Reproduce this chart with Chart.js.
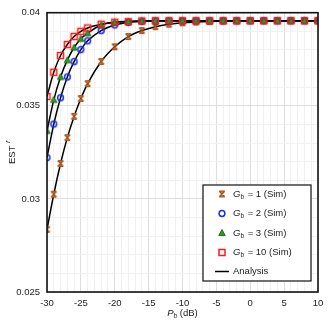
<!DOCTYPE html>
<html>
<head>
<meta charset="utf-8">
<script src="https://cdn.jsdelivr.net/npm/chart.js@4/dist/chart.umd.min.js"></script>
<style>
  html, body { margin: 0; padding: 0; background: #fff; }
  #wrap { width: 332px; height: 328px; }
</style>
</head>
<body>
<div id="wrap"><canvas id="chart" width="332" height="328"></canvas></div>
<script>
// P_b (dB) sample points
const pb = [-30, -29, -28, -27, -26, -25, -24, -22, -20, -18, -16, -14, -12, -10, -8, -6, -4, -2, 0, 2, 4, 6, 8, 10];

// EST values
const estG1 = [0.02836, 0.03025, 0.03190, 0.03329, 0.03443, 0.03539, 0.03619, 0.03738, 0.03817, 0.03872, 0.03904, 0.03925, 0.03938, 0.03946, 0.03950, 0.03953, 0.03955, 0.03956, 0.03957, 0.03957, 0.03957, 0.03957, 0.03957, 0.03957];
const estG2 = [0.03222, 0.03402, 0.03543, 0.03655, 0.03737, 0.03802, 0.03849, 0.03904, 0.03934, 0.03948, 0.03953, 0.03955, 0.03956, 0.03957, 0.03957, 0.03957, 0.03957, 0.03957, 0.03957, 0.03957, 0.03957, 0.03957, 0.03957, 0.03957];
const estG3 = [0.03365, 0.03532, 0.03655, 0.03745, 0.03813, 0.03860, 0.03890, 0.03934, 0.03949, 0.03953, 0.03956, 0.03957, 0.03957, 0.03957, 0.03957, 0.03957, 0.03957, 0.03957, 0.03957, 0.03957, 0.03957, 0.03957, 0.03957, 0.03957];
const estG10 = [0.03550, 0.03680, 0.03770, 0.03829, 0.03872, 0.03900, 0.03918, 0.03938, 0.03949, 0.03952, 0.03956, 0.03957, 0.03957, 0.03957, 0.03957, 0.03957, 0.03957, 0.03957, 0.03957, 0.03957, 0.03957, 0.03957, 0.03957, 0.03957];

const xTickLabels = ['-30', '-25', '-20', '-15', '-10', '-5', '0', '5', '10'];
const yTickLabels = ['0.025', '0.03', '0.035', '0.04'];
const legendLabels = ['1 (Sim)', '2 (Sim)', '3 (Sim)', '10 (Sim)'];

const FONT = '"Liberation Sans", Arial, sans-serif';
const TEXT = '#222';

function drawMarker(ctx, kind, x, y) {
  ctx.save();
  if (kind === 'hour') {
    // bow-tie with an x through it
    ctx.strokeStyle = '#a9561c';
    ctx.fillStyle = '#c9864f';
    ctx.lineWidth = 1.3;
    ctx.beginPath();
    ctx.moveTo(x - 2.8, y - 2.8); ctx.lineTo(x + 2.8, y - 2.8); ctx.lineTo(x, y);
    ctx.closePath();
    ctx.moveTo(x - 2.8, y + 2.8); ctx.lineTo(x + 2.8, y + 2.8); ctx.lineTo(x, y);
    ctx.closePath();
    ctx.fill();
    ctx.beginPath();
    ctx.moveTo(x - 2.8, y - 2.8); ctx.lineTo(x + 2.8, y + 2.8);
    ctx.moveTo(x + 2.8, y - 2.8); ctx.lineTo(x - 2.8, y + 2.8);
    ctx.moveTo(x - 2.8, y - 2.8); ctx.lineTo(x + 2.8, y - 2.8);
    ctx.moveTo(x - 2.8, y + 2.8); ctx.lineTo(x + 2.8, y + 2.8);
    ctx.stroke();
  } else if (kind === 'circle') {
    ctx.strokeStyle = '#1a2ee8';
    ctx.lineWidth = 1.5;
    ctx.beginPath();
    ctx.arc(x, y, 2.9, 0, Math.PI * 2);
    ctx.stroke();
  } else if (kind === 'tri') {
    ctx.fillStyle = '#2e9a2e';
    ctx.strokeStyle = '#1d6b1d';
    ctx.lineWidth = 1;
    ctx.beginPath();
    ctx.moveTo(x, y - 3.5); ctx.lineTo(x + 3.2, y + 2.6); ctx.lineTo(x - 3.2, y + 2.6);
    ctx.closePath();
    ctx.fill(); ctx.stroke();
  } else if (kind === 'square') {
    ctx.strokeStyle = '#ff1a1a';
    ctx.lineWidth = 1.5;
    ctx.strokeRect(x - 3, y - 3, 6, 6);
  }
  ctx.restore();
}

function markerImage(kind) {
  const c = document.createElement('canvas');
  c.width = 11; c.height = 11;
  drawMarker(c.getContext('2d'), kind, 5.5, 5.5);
  return c;
}

const kinds = ['hour', 'circle', 'tri', 'square'];
const series = [estG1, estG2, estG3, estG10];

const datasets = [];
series.forEach((vals, i) => {
  datasets.push({
    data: pb.map((x, j) => ({ x: x, y: vals[j] })),
    showLine: false,
    pointStyle: markerImage(kinds[i]),
    pointRadius: 5,
    order: series.length - 1 - i   // G_b = 10 ends up on top
  });
});
series.forEach((vals) => {
  datasets.push({
    data: pb.map((x, j) => ({ x: x, y: vals[j] })),
    borderColor: '#000',
    borderWidth: 1.5,
    pointRadius: 0,
    cubicInterpolationMode: 'monotone',
    order: 10
  });
});

function gridColor(ctx, step) {
  const v = ctx.tick ? ctx.tick.value : 0;
  const k = Math.round(v / step);
  return k % 5 === 0 ? '#dedede' : '#f1f1f1';
}

const decorPlugin = {
  id: 'decor',
  afterDatasetsDraw(chart) {
    const ctx = chart.ctx;
    const a = chart.chartArea;
    ctx.save();
    // frame
    ctx.strokeStyle = '#111';
    ctx.lineWidth = 1.6;
    ctx.strokeRect(a.left, a.top, a.right - a.left, a.bottom - a.top);

    // legend box
    const bx = 203, by = 185, bw = 108, bh = 96;
    ctx.fillStyle = '#fff';
    ctx.fillRect(bx, by, bw, bh);
    ctx.strokeStyle = '#111';
    ctx.lineWidth = 1.2;
    ctx.strokeRect(bx, by, bw, bh);
    const rows = [194, 213.5, 233, 252.5, 271.5];
    ctx.textBaseline = 'middle';
    legendLabels.forEach((lab, i) => {
      const y = rows[i];
      drawMarker(ctx, kinds[i], 222, y);
      let x = 233;
      ctx.fillStyle = TEXT;
      ctx.font = 'italic 9.5px ' + FONT;
      ctx.fillText('G', x, y);
      x += ctx.measureText('G').width;
      ctx.font = '6.5px ' + FONT;
      ctx.fillText('b', x, y + 3);
      x += ctx.measureText('b').width + 1;
      ctx.font = '9.5px ' + FONT;
      ctx.fillText(' = ' + lab, x, y);
    });
    ctx.strokeStyle = '#000';
    ctx.lineWidth = 1.5;
    ctx.beginPath();
    ctx.moveTo(215, rows[4]); ctx.lineTo(229, rows[4]);
    ctx.stroke();
    ctx.fillStyle = TEXT;
    ctx.font = '9.5px ' + FONT;
    ctx.fillText('Analysis', 233, rows[4]);

    // x title: P_b (dB)
    const xt = 313;
    ctx.font = 'italic 9.5px ' + FONT;
    const wP = ctx.measureText('P').width;
    ctx.font = '6.5px ' + FONT;
    const wb = ctx.measureText('b').width;
    ctx.font = '9.5px ' + FONT;
    const wr = ctx.measureText(' (dB)').width;
    let sx = (a.left + a.right) / 2 - (wP + wb + wr) / 2;
    ctx.font = 'italic 9.5px ' + FONT;
    ctx.fillText('P', sx, xt);
    sx += wP;
    ctx.font = '6.5px ' + FONT;
    ctx.fillText('b', sx, xt + 3);
    sx += wb;
    ctx.font = '9.5px ' + FONT;
    ctx.fillText(' (dB)', sx, xt);

    // y title: EST^r
    ctx.translate(12, (a.top + a.bottom) / 2);
    ctx.rotate(-Math.PI / 2);
    ctx.font = '9.5px ' + FONT;
    const wE = ctx.measureText('EST ').width;
    ctx.font = 'italic 6.5px ' + FONT;
    const wR = ctx.measureText('r').width;
    const ty = -(wE + wR) / 2;
    ctx.font = '9.5px ' + FONT;
    ctx.fillText('EST ', ty, 0);
    ctx.font = 'italic 6.5px ' + FONT;
    ctx.fillText('r', ty + wE, -4);
    ctx.restore();
  }
};

new Chart(document.getElementById('chart'), {
  type: 'line',
  data: { datasets: datasets },
  plugins: [decorPlugin],
  options: {
    responsive: false,
    animation: false,
    layout: { padding: { top: 11, right: 14, left: 0, bottom: 0 } },
    plugins: { legend: { display: false }, tooltip: { enabled: false } },
    scales: {
      x: {
        type: 'linear',
        min: -30, max: 10,
        afterFit(scale) { scale.height = 36; },
        border: { display: false },
        grid: { color: (c) => gridColor(c, 1), drawTicks: false, lineWidth: 1 },
        ticks: {
          stepSize: 1, autoSkip: false, maxTicksLimit: 100, maxRotation: 0,
          padding: 6, color: TEXT, font: { family: FONT, size: 9.5 },
          callback: (v) => {
            const s = String(Math.round(v));
            return xTickLabels.includes(s) ? s : '';
          }
        }
      },
      y: {
        type: 'linear',
        min: 0.025, max: 0.04,
        afterFit(scale) { scale.width = 47; },
        border: { display: false },
        grid: { color: (c) => gridColor(c, 0.001), drawTicks: false, lineWidth: 1 },
        ticks: {
          stepSize: 0.001, autoSkip: false, maxTicksLimit: 100,
          padding: 7, color: TEXT, font: { family: FONT, size: 9.5 },
          callback: (v) => {
            const k = Math.round(v * 1000);
            if (k % 5 !== 0) return '';
            const s = String(k / 1000);
            return yTickLabels.includes(s) ? s : '';
          }
        }
      }
    }
  }
});
</script>
</body>
</html>
